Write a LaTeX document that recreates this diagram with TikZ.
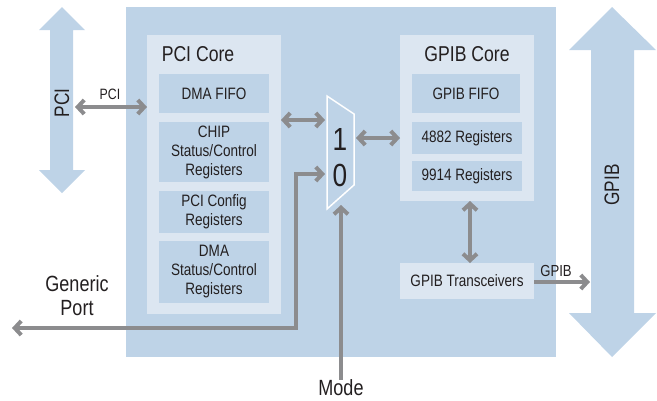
\documentclass[tikz,border=0pt]{standalone}
\usepackage{fontspec}
\setmainfont{Liberation Sans}[FakeStretch=0.82]
\usetikzlibrary{arrows.meta}
\definecolor{bblue}{HTML}{BED3E7}
\definecolor{lblue}{HTML}{DCE6F1}
\definecolor{agray}{HTML}{8C8C8E}
\definecolor{txt}{HTML}{231F20}
\tikzset{
  >={Straight Barb[length=6.5pt,width=14pt]},
  box/.style={inner sep=0pt, outer sep=0pt, align=center, text=txt},
  subbox/.style={box, fill=bblue, font=\fontsize{16.5}{19}\selectfont},
  corebox/.style={box, fill=lblue},
  lbl/.style={inner sep=0pt, text=txt, align=center},
  conn/.style={draw=agray, line width=4pt},
}
\begin{document}
\begin{tikzpicture}[x=1pt,y=-1pt]
\useasboundingbox (0,0) rectangle (657,400);
% main chip
\node[box, fill=bblue, minimum width=430pt, minimum height=350pt] (chip) at (341,182) {};
% cores
\node[corebox, minimum width=134pt, minimum height=279pt] (pcicore) at (214,174.5) {};
\node[lbl, font=\fontsize{21.5}{25}\selectfont] (pcititle) at (198,54) {PCI Core};
\node[corebox, minimum width=134pt, minimum height=166pt] (gpibcore) at (467,118) {};
\node[lbl, font=\fontsize{21.5}{25}\selectfont] (gpibtitle) at (467,54) {GPIB Core};
% PCI sub-boxes
\node[subbox, minimum width=110pt, minimum height=39pt] (dmafifo) at (214,93.5) {DMA FIFO};
\node[subbox, minimum width=110pt, minimum height=60pt] (chipreg) at (214,152) {CHIP\\Status/Control\\Registers};
\node[subbox, minimum width=110pt, minimum height=42pt] (pcicfg) at (214,212) {PCI Config\\Registers};
\node[subbox, minimum width=110pt, minimum height=62pt] (dmastat) at (214,272) {DMA\\Status/Control\\Registers};
% GPIB sub-boxes
\node[subbox, minimum width=108pt, minimum height=39pt] (gpibfifo) at (466,93.5) {GPIB FIFO};
\node[subbox, minimum width=110pt, minimum height=32pt] (reg4882) at (467,138) {4882 Registers};
\node[subbox, minimum width=110pt, minimum height=30pt] (reg9914) at (467,176) {9914 Registers};
\node[corebox, font=\fontsize{16.5}{19}\selectfont, minimum width=134pt, minimum height=36pt] (trans) at (467,281) {GPIB Transceivers};
% big bus arrows
\fill[bblue] (62,7) -- (85,30) -- (73,30) -- (73,170) -- (85,170) -- (62,193) -- (39,170) -- (50,170) -- (50,30) -- (39,30) -- cycle;
\node[lbl, rotate=90, font=\fontsize{21}{25}\selectfont] (pcibus) at (62,103) {PCI};
\fill[bblue] (612,7) -- (656,50) -- (634,50) -- (634,313) -- (656,313) -- (612,357) -- (569,313) -- (591,313) -- (591,50) -- (569,50) -- cycle;
\node[lbl, rotate=90, font=\fontsize{21}{25}\selectfont] (gpibbus) at (612,185) {GPIB};
% mux
\coordinate (m1) at (327,96);
\coordinate (m2) at (354,114);
\coordinate (m3) at (354,185);
\coordinate (m4) at (327,209);
\draw[white, line width=1.5pt, fill=bblue, line join=miter] (m1) -- (m2) -- (m3) -- (m4) -- cycle;
\node[lbl, font=\fontsize{32}{36}\selectfont] (in1) at (340,139) {1};
\node[lbl, font=\fontsize{32}{36}\selectfont] (in0) at (340,175) {0};
% labels
\node[lbl, font=\fontsize{15}{18}\selectfont] (pcilbl) at (110,94) {PCI};
\node[lbl, font=\fontsize{16}{19}\selectfont] (gpiblbl) at (556,271) {GPIB};
\node[lbl, font=\fontsize{22}{24}\selectfont] (generic) at (77,296) {Generic\\Port};
\node[lbl, font=\fontsize{22}{24}\selectfont] (mode) at (341,388) {Mode};
% connectors
\coordinate (pcibusR) at (75,107);
\draw[conn,<->] (pcibusR) -- (pcibusR -| pcicore.west);
\draw[conn,<->] (pcicore.east |- 0,120) -- (325,120);
\draw[conn,<->] (356,138) -- (gpibcore.west |- 0,138);
\coordinate (genL) at (12,328);
\draw[conn,<->] (genL) -- (296,328) -- (296,174) -- (325,174);
\draw[conn,->] (mode.north) -- (341,205);
\draw[conn,<->] ([xshift=3pt]gpibcore.south) -- ([xshift=3pt]trans.north);
\draw[conn,->] (trans.east |- 0,282) -- (590,282);
\end{tikzpicture}
\end{document}
